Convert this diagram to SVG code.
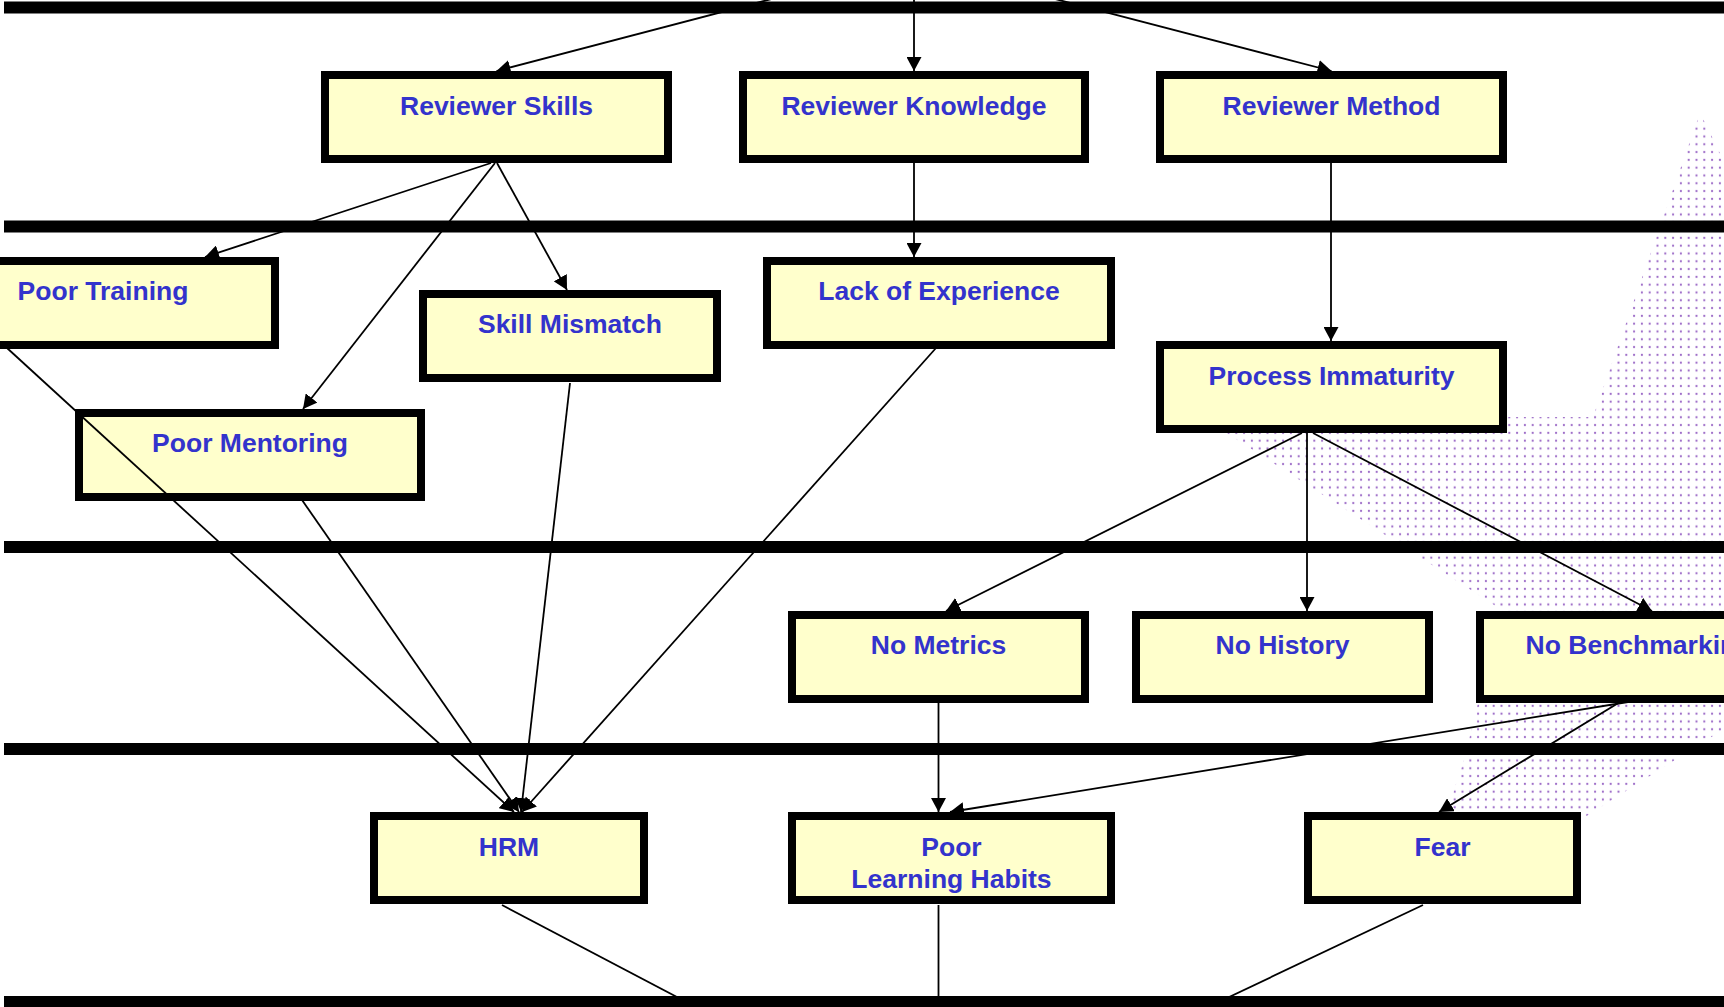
<svg xmlns="http://www.w3.org/2000/svg" width="1724" height="1007" viewBox="0 0 1724 1007">
  <style>
    .bar { fill: #000000; }
    .box { fill: #FFFFCC; stroke: #000000; stroke-width: 8; }
    .lbl { font-family: "Liberation Sans", Arial, Helvetica, sans-serif; font-weight: bold; font-size: 26.5px; fill: #3333CC; text-anchor: middle; }
    .edge { fill: none; stroke: #000000; stroke-width: 1.8; }
    .arrow { marker-end: url(#head); }
  </style>
  <defs>
    <marker id="head" markerUnits="userSpaceOnUse" viewBox="0 0 14 15" refX="14" refY="7.5" markerWidth="14" markerHeight="15" orient="auto">
      <path d="M0,0 L14,7.5 L0,15 z" fill="#000000"/>
    </marker>
    <pattern id="dots" patternUnits="userSpaceOnUse" width="7.8" height="7.8">
      <circle cx="3.9" cy="3.9" r="1.1" fill="#9A68C6"/>
    </pattern>
  </defs>

  <rect width="1724" height="1007" fill="#FFFFFF"/>

  <!-- shaded area behind the right-hand branch -->
  <path id="shade" d="M1700,113 L1716,145 L1724,162 L1760,240 L1760,700 L1724,729 L1585,817 L1448,818 L1454,790 L1464,760 L1478,703 L1505,612 L1225,432 L1225,417 L1593,417 Z" fill="url(#dots)"/>

  <!-- level separators -->
  <g id="levels">
    <rect class="bar" x="4" y="1.5" width="1730" height="12"/>
    <rect class="bar" x="4" y="220.5" width="1730" height="12"/>
    <rect class="bar" x="4" y="541" width="1730" height="12"/>
    <rect class="bar" x="4" y="743" width="1730" height="12"/>
    <rect class="bar" x="4" y="996" width="1730" height="14"/>
  </g>

  <!-- level 1 -->
  <g id="reviewer-skills">
    <rect class="box" x="325" y="75" width="343" height="84"/>
    <text class="lbl" x="496.5" y="115">Reviewer Skills</text>
  </g>
  <g id="reviewer-knowledge">
    <rect class="box" x="743" y="75" width="342" height="84"/>
    <text class="lbl" x="914" y="115">Reviewer Knowledge</text>
  </g>
  <g id="reviewer-method">
    <rect class="box" x="1160" y="75" width="343" height="84"/>
    <text class="lbl" x="1331.5" y="115">Reviewer Method</text>
  </g>

  <!-- level 2 -->
  <g id="poor-training">
    <rect class="box" x="-69" y="261" width="344" height="84"/>
    <text class="lbl" x="103" y="300">Poor Training</text>
  </g>
  <g id="skill-mismatch">
    <rect class="box" x="423" y="294" width="294" height="84"/>
    <text class="lbl" x="570" y="333">Skill Mismatch</text>
  </g>
  <g id="poor-mentoring">
    <rect class="box" x="79" y="413" width="342" height="84"/>
    <text class="lbl" x="250" y="452">Poor Mentoring</text>
  </g>
  <g id="lack-of-experience">
    <rect class="box" x="767" y="261" width="344" height="84"/>
    <text class="lbl" x="939" y="300">Lack of Experience</text>
  </g>
  <g id="process-immaturity">
    <rect class="box" x="1160" y="345" width="343" height="84"/>
    <text class="lbl" x="1331.5" y="384.5">Process Immaturity</text>
  </g>

  <!-- level 3 -->
  <g id="no-metrics">
    <rect class="box" x="792" y="615" width="293" height="84"/>
    <text class="lbl" x="938.5" y="654">No Metrics</text>
  </g>
  <g id="no-history">
    <rect class="box" x="1136" y="615" width="293" height="84"/>
    <text class="lbl" x="1282.5" y="654">No History</text>
  </g>
  <g id="no-benchmarking">
    <rect class="box" x="1480" y="615" width="318" height="84"/>
    <text class="lbl" x="1639" y="654">No Benchmarking</text>
  </g>

  <!-- level 4 -->
  <g id="hrm">
    <rect class="box" x="374" y="816" width="270" height="84"/>
    <text class="lbl" x="509" y="856">HRM</text>
  </g>
  <g id="poor-learning-habits">
    <rect class="box" x="792" y="816" width="319" height="84"/>
    <text class="lbl" x="951.5" y="856">Poor</text>
    <text class="lbl" x="951.5" y="887.5">Learning Habits</text>
  </g>
  <g id="fear">
    <rect class="box" x="1308" y="816" width="269" height="84"/>
    <text class="lbl" x="1442.5" y="856">Fear</text>
  </g>

  <!-- connectors -->
  <g id="edges">
    <path class="edge arrow" d="M913,-38 L496.5,71"/>
    <path class="edge arrow" d="M914,-38 L914,71"/>
    <path class="edge arrow" d="M913,-38 L1331.5,71"/>

    <path class="edge arrow" d="M491,163 L205,257"/>
    <path class="edge arrow" d="M495,163 L303,409"/>
    <path class="edge arrow" d="M497,163 L567,290"/>
    <path class="edge arrow" d="M914,163 L914,257"/>
    <path class="edge arrow" d="M1331,163 L1331,341"/>

    <path class="edge arrow" d="M1302,433 L946,611"/>
    <path class="edge arrow" d="M1307,433 L1307,611"/>
    <path class="edge arrow" d="M1313,433 L1652,611"/>

    <path class="edge arrow" d="M7,348 L514,812"/>
    <path class="edge arrow" d="M302,500 L519,812"/>
    <path class="edge arrow" d="M570,383 L521,812"/>
    <path class="edge arrow" d="M936,348 L522,812"/>

    <path class="edge arrow" d="M938.5,702 L938.5,812"/>
    <path class="edge arrow" d="M1628,702 L950,812"/>
    <path class="edge arrow" d="M1620,702 L1439,812"/>

    <path class="edge" d="M502,905 L696,1007"/>
    <path class="edge" d="M938.5,905 L938.5,1007"/>
    <path class="edge" d="M1423,905 L1208,1007"/>
  </g>
</svg>
